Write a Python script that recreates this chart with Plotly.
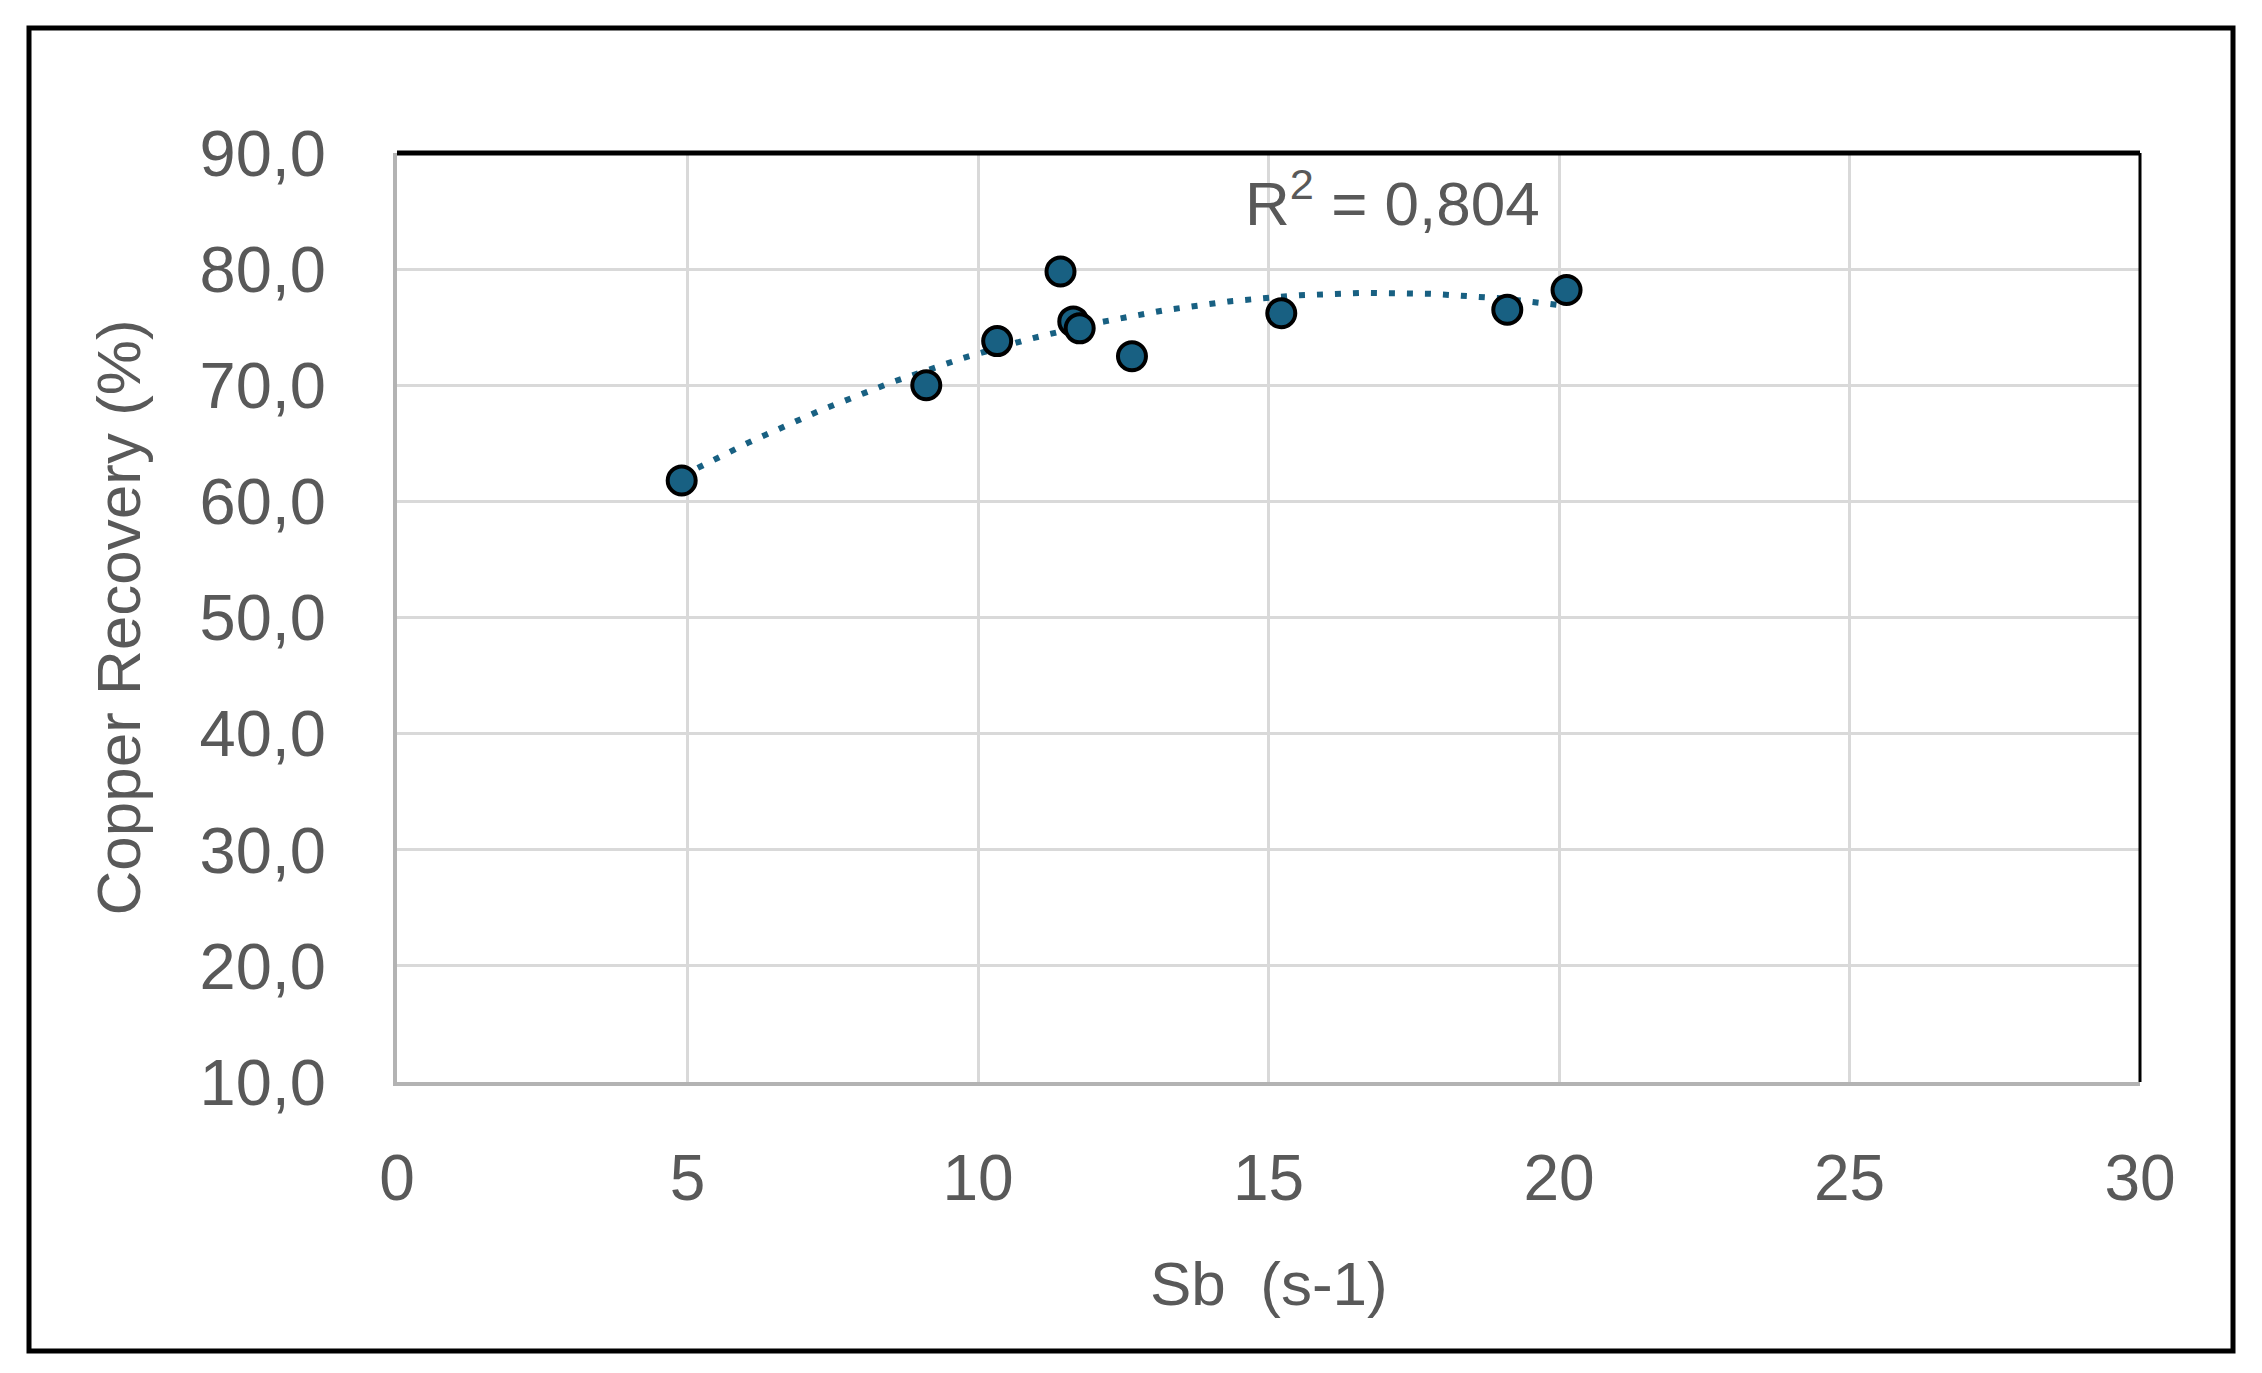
import numpy as np
import plotly.graph_objects as go

# Data
sb = [4.90, 9.11, 10.33, 11.42, 11.64, 11.75, 12.65, 15.22, 19.11, 20.13]
recovery = [61.8, 70.0, 73.8, 79.8, 75.5, 74.9, 72.5, 76.2, 76.5, 78.2]
x_ticks = [0, 5, 10, 15, 20, 25, 30]
y_ticks = [10, 20, 30, 40, 50, 60, 70, 80, 90]
r2_label = "R<sup>2</sup> = 0,804"

MARKER = "#186082"
TXT = "#595959"
FONT = "Liberation Sans"

# Polynomial (order 2) trendline, as in the spreadsheet chart
coef = np.polyfit(sb, recovery, 2)
tx = np.linspace(min(sb), max(sb), 200)
ty = np.polyval(coef, tx)

fig = go.Figure()
fig.add_trace(go.Scatter(x=tx, y=ty, mode="lines",
                         line=dict(color=MARKER, width=6, dash="6px,12px"),
                         hoverinfo="skip", showlegend=False))
fig.add_trace(go.Scatter(x=sb, y=recovery, mode="markers",
                         marker=dict(color=MARKER, size=28,
                                     line=dict(color="black", width=4)),
                         showlegend=False))

W, H = 2262, 1373
L, R, T, B = 397, 2140, 153, 1082
pw, ph = R - L, B - T

def px(x):
    return (x - L) / pw

def py(y):
    return (B - y) / ph

fig.update_layout(
    width=W, height=H,
    margin=dict(l=L, r=W - R, t=T, b=H - B, pad=0),
    paper_bgcolor="white", plot_bgcolor="white",
    separators=",.",
    font=dict(family=FONT, color=TXT, size=64),
    xaxis=dict(range=[0, 30], tickvals=x_ticks, showgrid=True,
               gridcolor="#d9d9d9", gridwidth=3, zeroline=False,
               showline=True, linecolor="#b3b3b3", linewidth=4,
               ticks="", ticklabelstandoff=37,
               tickfont=dict(family=FONT, size=64, color=TXT)),
    yaxis=dict(range=[10, 90], tickvals=y_ticks, tickformat=".1f",
               showgrid=True, gridcolor="#d9d9d9", gridwidth=3,
               zeroline=False, showline=True, linecolor="#b3b3b3",
               linewidth=4, ticks="", ticklabelstandoff=54,
               tickfont=dict(family=FONT, size=65, color=TXT)),
    shapes=[
        # outer chart border
        dict(type="rect", xref="paper", yref="paper",
             x0=px(29), x1=px(2233), y0=py(1351), y1=py(28),
             line=dict(color="black", width=5)),
        # plot area top and right border
        dict(type="line", xref="paper", yref="paper",
             x0=0, x1=1, y0=1, y1=1, line=dict(color="black", width=5)),
        dict(type="line", xref="paper", yref="paper",
             x0=1, x1=1, y0=0, y1=1, line=dict(color="black", width=3)),
    ],
    annotations=[
        dict(text="Sb\u00a0 (s-1)", xref="paper", yref="paper",
             x=0.5, y=py(1283), showarrow=False,
             xanchor="center", yanchor="middle",
             font=dict(family=FONT, size=62, color=TXT)),
        dict(text="Copper Recovery (%)", xref="paper", yref="paper",
             x=px(118), y=0.5, showarrow=False, textangle=-90,
             xanchor="center", yanchor="middle",
             font=dict(family=FONT, size=62, color=TXT)),
        dict(text=r2_label, xref="x", yref="y", x=17.14, y=86.0,
             showarrow=False, xanchor="center", yanchor="middle",
             font=dict(family=FONT, size=62, color=TXT)),
    ],
)

fig.write_html("out.html")
